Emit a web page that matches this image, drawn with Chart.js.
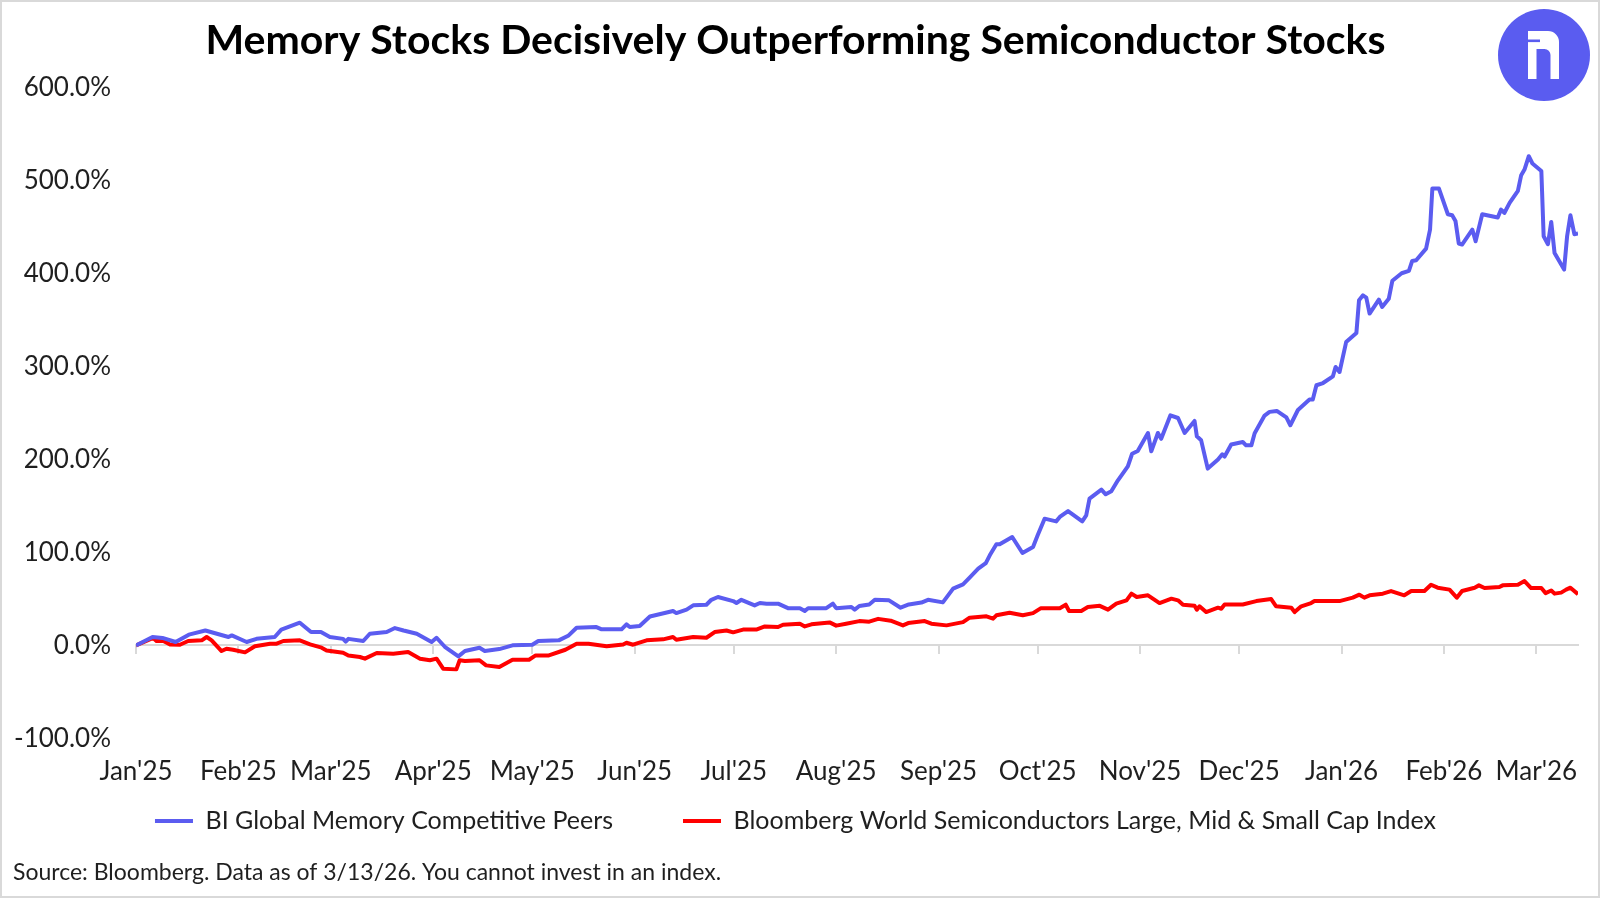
<!DOCTYPE html>
<html>
<head>
<meta charset="utf-8">
<script src="https://cdn.jsdelivr.net/npm/chart.js@4.4.1/dist/chart.umd.min.js"></script>
<style>
  html, body { margin: 0; padding: 0; background: #fff; }
  #wrap { position: relative; width: 1600px; height: 898px; }
  #frame { position: absolute; left: 0; top: 0; width: 1600px; height: 898px; box-sizing: border-box; border: 2px solid #d9d9d9; pointer-events: none; }
  #logo { position: absolute; left: 1498px; top: 9px; width: 92px; height: 92px; }
</style>
</head>
<body>
<div id="wrap">
  <canvas id="chart" width="1600" height="898"></canvas>
  <svg id="logo" viewBox="0 0 92 92">
    <circle cx="46" cy="46" r="46" fill="#5a5cf0"/>
    <path d="M30,22 H50 A11,11 0 0 1 61,33 V70 H52.5 V46 A6,6 0 0 0 46.5,40 H38.5 V70 H30 Z" fill="#fff"/>
    <rect x="29" y="30.5" width="13" height="2.6" fill="#5a5cf0"/>
  </svg>
  <div id="frame"></div>
</div>
<script>
// days counted from 1 Jan 2025
const monthDays = [0, 31, 59, 90, 120, 151, 181, 212, 243, 273, 304, 334, 365, 396, 424];
const monthLabels = ["Jan'25", "Feb'25", "Mar'25", "Apr'25", "May'25", "Jun'25", "Jul'25", "Aug'25",
  "Sep'25", "Oct'25", "Nov'25", "Dec'25", "Jan'26", "Feb'26", "Mar'26"];

const memoryDays = [0, 5, 8, 12, 16, 21, 28, 29, 33.5, 36.5, 42, 44, 49.6, 53, 56, 58.7, 62.7, 63.5, 64.3, 68.8,
  70.8, 75.9, 78.4, 81, 85, 89.5, 91, 93.5, 97.6, 99.6, 104, 105.6, 110, 114, 120, 121.8, 128, 131, 133.4, 139.4,
  141, 147, 148.5, 149.5, 152.5, 155.6, 162.6, 163.6, 166.7, 168.7, 172.7, 174.2, 176.2, 180.8, 181.8, 183.3, 187.3, 188.9, 190.9, 194.4,
  197.4, 201, 202.5, 203.5, 209, 211, 212, 216.6, 217.6, 219, 222, 223.7, 228, 231.5, 234, 237.8, 239.8, 244.3, 247.4, 250.4,
  252.4, 255, 257.3, 258.5, 260.5, 261.5, 265.3, 268.4, 271.6, 273, 275.1, 278.6, 279.7, 282.2, 286.5, 287.7, 288.7, 292.3, 293.6, 295.3,
  297.3, 300.3, 301.6, 303.3, 306.4, 307.4, 309.4, 310.4, 313.2, 315.5, 317.5, 320.5, 321.2, 322.5, 324.5, 327.6, 328.9, 329.6, 331.6, 335.1,
  336.1, 337.7, 338.7, 341.7, 343.2, 345.4, 348.3, 349.5, 351.8, 355.3, 356.3, 357.4, 359.4, 362.4, 363.2, 364.4, 366.4, 369.5, 370.3, 371.5,
  372.5, 373.5, 376.3, 377.3, 379.3, 380.4, 383.2, 385.4, 386.4, 387.6, 390.6, 391.8, 392.5, 394.5, 397.2, 398.5, 399.5, 400.5, 401.5, 404.6,
  405.6, 407.6, 412.3, 413.3, 414.3, 415.9, 418.4, 419.4, 420.4, 421.7, 422.8, 425.5, 426.2, 427.5, 428.5, 429.5, 432.4, 433.3, 434.3, 435.5, 436.6];
const memoryValues = [0, 9, 8, 3.6, 11.5, 16, 9, 10.7, 3.6, 7, 9, 17, 24.4, 14.3, 14.3, 9, 7, 4, 7, 4.7,
  12.5, 14.3, 18.6, 16, 12.5, 3.6, 8.2, -1.5, -11.8, -6.1, -2.5, -6, -4, 0, 0.7, 4.7, 5.4, 10.7, 19, 19.7,
  17.2, 17.2, 22.6, 19.7, 20.8, 31, 37, 34.7, 38.4, 43, 43.7, 49, 52, 47.6, 45.5, 49, 43, 45.5, 44.8, 44.8,
  40, 40, 37, 40, 40, 44.8, 40, 41.2, 38.4, 42.3, 44, 49, 48.4, 40.5, 44, 46, 49, 46.2, 61, 65.6,
  72.8, 82.4, 88.5, 96.8, 108.6, 108.6, 116.5, 99.3, 105.7, 118.3, 136.2, 133.3, 138, 144.4, 133.3, 139.8, 157.7, 167.4, 162.4, 165.6,
  177.4, 192.5, 206, 209, 228.3, 208.6, 228.3, 222, 247.3, 244.4, 228.3, 241.2, 224.7, 220.4, 190, 199.7, 205.4, 203, 216, 218.6,
  215, 215, 228, 247, 251, 252, 245, 236.6, 253, 264.2, 264.2, 279.6, 282, 289.2, 299.3, 293.9, 326, 335.8, 371, 376.3,
  373.9, 356.7, 371.7, 363.8, 372.5, 392, 400, 402.5, 413.2, 414, 426.5, 447, 491, 491, 463.4, 462.4, 456.3, 432, 430.9, 447,
  434.4, 463.4, 459.9, 468.5, 464.8, 475.6, 488.5, 505.4, 511.5, 525.8, 518, 510, 439.8, 431.2, 455.2, 421.8, 404, 439.8, 462.4, 442, 442.7];

const semisDays = [0, 5.2, 6.2, 8.3, 10.3, 13.3, 15.8, 19.9, 21.4, 22.9, 25.9, 27.4, 29.4, 33, 36, 40.6, 42.6, 44.6, 49.6, 52.7,
  56.2, 57.7, 62.7, 64.3, 67.8, 69.3, 72.9, 77.9, 82.4, 86, 89, 91, 93, 97, 98, 99.6, 104, 106, 110, 114,
  119, 121, 125, 130, 133.4, 137, 142.5, 147.5, 148.5, 150.5, 154.6, 159.6, 162.6, 163.6, 168.7, 172.7, 175.2, 178.8, 180.8, 183.8,
  187.8, 190.4, 194.4, 195.9, 201, 202.5, 204.5, 210, 212, 215, 219, 222, 224.7, 228.5, 232.2, 233.8, 238.8, 240.8, 245.4, 250.4,
  252.4, 257.5, 259.5, 260.5, 264.5, 268.5, 271.6, 274, 279.7, 281.5, 282.5, 286.2, 288.2, 291.8, 294.3, 296.8, 299.9, 301.4, 303, 306.4,
  309.9, 313.5, 315.5, 317, 320.5, 321.2, 322, 324, 327.6, 328.6, 329.6, 335.1, 339.2, 343.7, 345.2, 349.8, 350.8, 352.8, 355.8, 356.8,
  364.4, 368.4, 370.4, 371.9, 373.5, 377.5, 380, 384, 386.1, 390.1, 392.1, 394.1, 397.7, 399.9, 401.5, 405.3, 406.6, 408.3, 412.8, 413.8,
  418.4, 420.4, 422.4, 425.5, 426.8, 428.5, 429.5, 431.5, 433, 434.3, 436.6];
const semisValues = [0, 7.9, 4.7, 4.7, 1, 0.7, 4.7, 5.4, 9, 5.4, -6.1, -3.6, -4.7, -7.5, -1, 1.8, 1.8, 4.7, 5.4, 1,
  -2.5, -5.4, -7.9, -10.8, -12.5, -14.3, -8.2, -9, -7.2, -14.3, -16, -14.3, -25, -25.8, -16, -16.8, -16, -21.5, -23.3, -15.4,
  -15.4, -10.8, -10.8, -4.7, 1.8, 1.8, -1, 1, 2.8, 0.7, 5.4, 6.5, 9, 6.1, 9, 8.2, 14.3, 16, 14, 17,
  17, 20.4, 19.7, 22.2, 23.3, 20.4, 22.6, 24.7, 21.2, 23.3, 26.1, 25.5, 28.5, 26.5, 21.5, 24, 26.1, 23.3, 21.5, 25,
  29.8, 31.2, 28.7, 32.3, 35.1, 32.3, 34.7, 40, 40, 43.7, 37, 37, 41.2, 42.5, 38.4, 44.8, 48.4, 55.6, 52, 53.8,
  45.5, 50.2, 48.4, 43.7, 42.7, 38.4, 42, 35.8, 40.5, 39.4, 44, 44, 47.6, 49.8, 42, 40.5, 35.8, 42, 45.5, 47.6,
  47.6, 51.3, 54.5, 51.3, 53.8, 55.6, 58.4, 53.8, 58.4, 58.4, 65.2, 62, 59.9, 51.3, 58.4, 62, 64.5, 61.6, 62.7, 64.5,
  65.2, 69.1, 61.6, 61.6, 56.2, 59, 55.6, 56.7, 59.9, 62, 55];

const yTicks = [-100, 0, 100, 200, 300, 400, 500, 600];

const toPoints = (xs, ys) => xs.map((x, i) => ({x: x, y: ys[i]}));

const textColor = '#1f1f1f';
const fontFamily = 'Lato, "Noto Sans", sans-serif';

new Chart(document.getElementById('chart'), {
	type: 'line',
	data: {
		datasets: [{
			label: 'BI Global Memory Competitive Peers',
			data: toPoints(memoryDays, memoryValues),
			borderColor: '#5b5cf0',
			backgroundColor: '#5b5cf0',
			borderWidth: 4,
			pointRadius: 0,
			tension: 0,
			borderJoinStyle: 'round'
		}, {
			label: 'Bloomberg World Semiconductors Large, Mid & Small Cap Index',
			data: toPoints(semisDays, semisValues),
			borderColor: '#ff0000',
			backgroundColor: '#ff0000',
			borderWidth: 4,
			pointRadius: 0,
			tension: 0,
			borderJoinStyle: 'round'
		}]
	},
	options: {
		responsive: false,
		animation: false,
		devicePixelRatio: 1,
		layout: { padding: { left: 13, right: 22, top: 0, bottom: 0 } },
		scales: {
			x: {
				type: 'linear',
				position: { y: 0 },
				min: 0,
				max: 436.6,
				afterBuildTicks: (scale) => { scale.ticks = monthDays.map(v => ({ value: v })); },
				// the big label padding must not eat into the plot width
				afterFit: (scale) => { scale.paddingLeft = 0; scale.paddingRight = 0; },
				grid: { drawOnChartArea: false, drawTicks: true, tickLength: 8, color: '#d9d9d9', lineWidth: 2 },
				border: { display: true, color: '#d9d9d9', width: 2 },
				ticks: {
					autoSkip: false,
					maxRotation: 0,
					padding: 103,
					color: textColor,
					font: { family: fontFamily, size: 26 },
					callback: (v) => monthLabels[monthDays.indexOf(v)]
				}
			},
			y: {
				min: -100,
				max: 600,
				afterBuildTicks: (scale) => { scale.ticks = yTicks.map(v => ({ value: v })); },
				afterFit: (scale) => { scale.width = 123; },
				grid: { display: false },
				border: { display: false },
				ticks: {
					padding: 17,
					color: textColor,
					font: { family: fontFamily, size: 26 },
					callback: (v) => v.toFixed(1) + '%'
				}
			}
		},
		plugins: {
			tooltip: { enabled: false },
			title: {
				display: true,
				text: 'Memory Stocks Decisively Outperforming Semiconductor Stocks',
				color: '#000',
				font: { family: fontFamily, size: 41, weight: 'bold' },
				padding: { top: 16, bottom: 22 }
			},
			legend: {
				position: 'bottom',
				labels: {
					color: textColor,
					font: { family: fontFamily, size: 25 },
					boxWidth: 38,
					boxHeight: 4,
					padding: 70,
					generateLabels: (chart) => {
						const items = Chart.defaults.plugins.legend.labels.generateLabels(chart);
						items.forEach(it => { it.lineWidth = 0; });
						return items;
					}
				}
			},
			subtitle: {
				display: true,
				position: 'bottom',
				align: 'start',
				text: 'Source: Bloomberg. Data as of 3/13/26. You cannot invest in an index.',
				color: textColor,
				font: { family: fontFamily, size: 23 },
				padding: { top: 15, bottom: 12 }
			}
		}
	}
});
</script>
</body>
</html>
